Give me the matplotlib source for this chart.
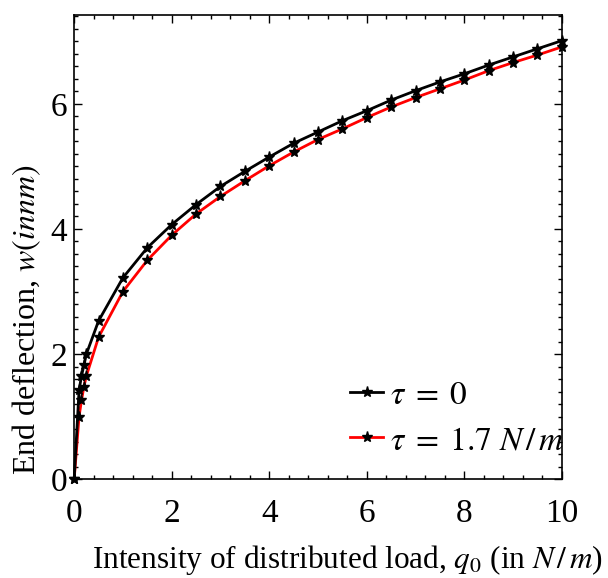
import matplotlib
matplotlib.use("Agg")
import matplotlib.pyplot as plt
from matplotlib.ticker import MultipleLocator

plt.rcParams['font.family'] = ['Liberation Serif', 'DejaVu Serif']
plt.rcParams['mathtext.fontset'] = 'stix'

# load intensity q0 (N/m)
q0 = [0, 0.1, 0.15, 0.2, 0.25, 0.5, 1, 1.5, 2, 2.5, 3, 3.5, 4, 4.5, 5,
      5.5, 6, 6.5, 7, 7.5, 8, 8.5, 9, 9.5, 10]
# end deflection, tau = 0
w_tau0 = [0, 1.42, 1.65, 1.82, 2.0, 2.53, 3.22, 3.70, 4.07, 4.39, 4.68, 4.92,
          5.15, 5.37, 5.55, 5.73, 5.89, 6.06, 6.21, 6.35, 6.48, 6.62, 6.75,
          6.88, 7.01]
# end deflection, tau = 1.7 N/m
w_tau17 = [0, 1.0, 1.26, 1.48, 1.65, 2.27, 3.0, 3.50, 3.90, 4.24, 4.52, 4.77,
           5.01, 5.23, 5.43, 5.60, 5.78, 5.95, 6.10, 6.24, 6.38, 6.53, 6.66,
           6.78, 6.91]

fig = plt.figure(figsize=(6.08, 5.78), dpi=100)
ax = fig.add_axes([0.122, 0.171, 0.802, 0.803])

ax.plot(q0, w_tau0, color='black', lw=2.0, marker='*', ms=8,
        mfc='black', mec='black', label=r'$\tau\;=\;0$', zorder=3, clip_on=False)
ax.plot(q0, w_tau17, color='red', lw=2.0, marker='*', ms=8,
        mfc='black', mec='black', label=r'$\tau\;=\;1.7\ N\,/\,m$', zorder=2, clip_on=False)

ax.set_xlim(0, 10)
ax.set_ylim(0, 7.42)
ax.xaxis.set_major_locator(MultipleLocator(2))
ax.xaxis.set_minor_locator(MultipleLocator(0.4))
ax.yaxis.set_major_locator(MultipleLocator(2))
ax.yaxis.set_minor_locator(MultipleLocator(0.2))
ax.tick_params(which='both', direction='in', top=True, right=True,
               labelsize=24, width=1)
ax.tick_params(which='major', length=6)
ax.tick_params(which='minor', length=3)
ax.tick_params(axis='x', which='major', pad=14)
ax.tick_params(axis='y', which='major', pad=5)
for s in ax.spines.values():
    s.set_linewidth(1.2)

ax.set_xlabel(r'Intensity of distributed load, $q_0$ (in $N\,/\,m$)', fontsize=22.5)
ax.set_ylabel(r'End deflection, $w(in nm)$', fontsize=23)
ax.xaxis.set_label_coords(0.56, -0.137)
ax.yaxis.set_label_coords(-0.064, 0.343)

ax.legend(loc='lower right', bbox_to_anchor=(1.033, 0.021), frameon=False,
          fontsize=24, handlelength=1.0, handletextpad=0.2, numpoints=1,
          borderaxespad=0.0, labelspacing=0.45)

fig.savefig('out.png', dpi=100)
